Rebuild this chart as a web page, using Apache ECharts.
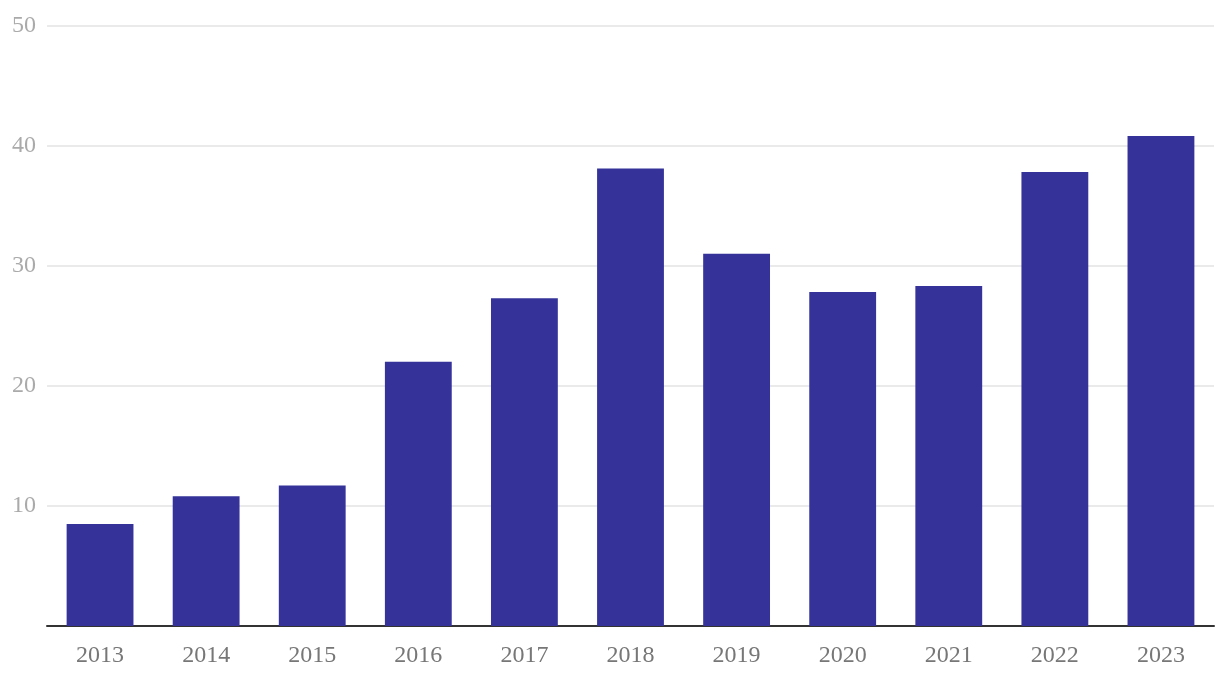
<!DOCTYPE html>
<html><head><meta charset="utf-8">
<script src="https://cdn.jsdelivr.net/npm/echarts@6/dist/echarts.min.js"></script>
<style>html,body{margin:0;padding:0;background:#fff}#c{width:1220px;height:686px}</style>
</head><body><div id="c"></div>
<script>
const categories = ['2013','2014','2015','2016','2017','2018','2019','2020','2021','2022','2023'];
const values = [8.5, 10.8, 11.7, 22.0, 27.3, 38.1, 31.0, 27.8, 28.3, 37.8, 40.8];
const yTicks = {min: 0, max: 50, interval: 10};
const chart = echarts.init(document.getElementById('c'));
chart.setOption({
  animation: false,
  grid: {left: 47, right: 6, top: 25.5, bottom: 60, containLabel: false},
  xAxis: {
    type: 'category', data: categories,
    axisLine: {lineStyle: {color: '#333', width: 2}},
    axisTick: {show: false},
    axisLabel: {color: '#777', fontFamily: 'Liberation Serif', fontSize: 24, margin: 18}
  },
  yAxis: {
    type: 'value', min: yTicks.min, max: yTicks.max, interval: yTicks.interval,
    axisLine: {show: false}, axisTick: {show: false},
    splitLine: {lineStyle: {color: '#e3e3e3', width: 1.5}},
    axisLabel: {color: '#aaa', fontFamily: 'Liberation Serif', fontSize: 24, align: 'left', margin: 35,
      formatter: v => v === 0 ? '' : v}
  },
  series: [{type: 'bar', data: values, barCategoryGap: '37%', itemStyle: {color: '#35339a'}}]
});
</script></body></html>
